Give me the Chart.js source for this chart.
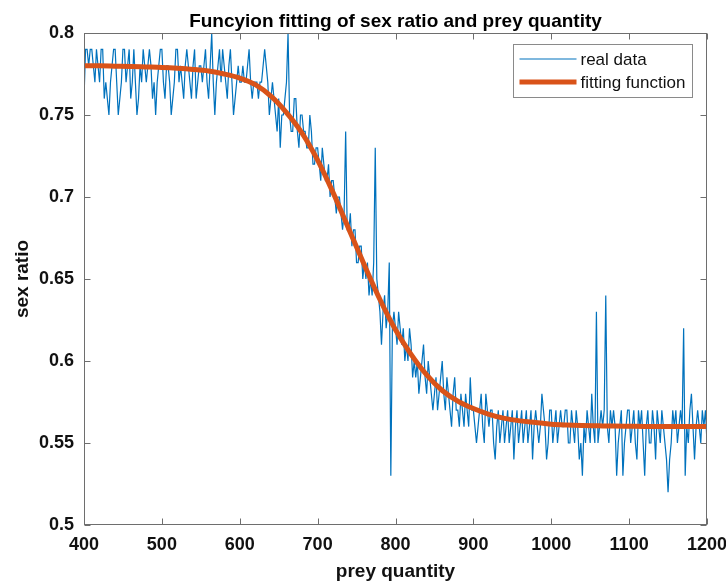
<!DOCTYPE html>
<html>
<head>
<meta charset="utf-8">
<script src="https://cdn.jsdelivr.net/npm/chart.js@4.4.1/dist/chart.umd.min.js"></script>
<style>
  html, body { margin: 0; padding: 0; background: #ffffff; }
  #wrap { width: 726px; height: 585px; }
</style>
</head>
<body>
<div id="wrap"><canvas id="c" width="726" height="585"></canvas></div>
<script>
// ---------- data ----------
const chartTitle = 'Funcyion fitting of sex ratio and prey quantity';
const xAxisTitle = 'prey quantity';
const yAxisTitle = 'sex ratio';
const seriesLabels = ['real data', 'fitting function'];

const xTicks = [400, 500, 600, 700, 800, 900, 1000, 1100, 1200];
const yTicks = [0.5, 0.55, 0.6, 0.65, 0.7, 0.75, 0.8];

// prey quantity for the measured series: 400, 402, ..., 1200
const realStart = 400, realStep = 2;
const realRatio = [
  0.76,0.79,0.79,0.78,0.79,0.79,0.78,0.77,0.79,0.78,0.77,0.79,0.79,0.76,0.77,0.76,0.75,0.77,0.78,0.79,
  0.79,0.77,0.75,0.76,0.77,0.79,0.79,0.77,0.78,0.79,0.76,0.77,0.79,0.77,0.75,0.76,0.78,0.77,0.79,0.78,
  0.77,0.78,0.79,0.78,0.76,0.77,0.75,0.77,0.78,0.79,0.79,0.77,0.76,0.78,0.78,0.77,0.75,0.76,0.77,0.79,
  0.79,0.77,0.78,0.77,0.76,0.78,0.79,0.78,0.77,0.76,0.78,0.79,0.76,0.77,0.78,0.78,0.77,0.78,0.79,0.77,
  0.76,0.78,0.80,0.77,0.75,0.77,0.78,0.79,0.77,0.79,0.78,0.77,0.76,0.78,0.79,0.77,0.75,0.76,0.77,0.78,
  0.77,0.77,0.78,0.77,0.77,0.78,0.79,0.77,0.76,0.77,0.77,0.77,0.76,0.77,0.77,0.78,0.79,0.78,0.77,0.75,
  0.76,0.77,0.76,0.75,0.74,0.76,0.73,0.75,0.75,0.76,0.77,0.80,0.75,0.74,0.74,0.76,0.76,0.74,0.73,0.75,
  0.75,0.74,0.74,0.73,0.73,0.75,0.74,0.72,0.72,0.73,0.73,0.72,0.71,0.73,0.72,0.71,0.71,0.72,0.70,0.71,
  0.71,0.70,0.69,0.70,0.70,0.69,0.68,0.69,0.74,0.68,0.68,0.69,0.67,0.68,0.68,0.66,0.66,0.67,0.67,0.65,
  0.66,0.65,0.66,0.64,0.65,0.64,0.66,0.73,0.65,0.64,0.63,0.61,0.63,0.64,0.62,0.63,0.66,0.53,0.62,0.63,
  0.62,0.61,0.63,0.62,0.61,0.62,0.60,0.61,0.60,0.62,0.61,0.59,0.60,0.59,0.60,0.58,0.59,0.60,0.61,0.59,
  0.58,0.60,0.59,0.58,0.57,0.58,0.59,0.57,0.58,0.59,0.60,0.58,0.57,0.59,0.58,0.57,0.56,0.58,0.59,0.57,
  0.57,0.56,0.58,0.57,0.56,0.58,0.57,0.56,0.59,0.57,0.57,0.56,0.55,0.56,0.57,0.58,0.56,0.55,0.58,0.57,
  0.56,0.57,0.57,0.55,0.54,0.56,0.57,0.55,0.56,0.57,0.55,0.56,0.57,0.55,0.56,0.57,0.54,0.56,0.57,0.55,
  0.56,0.57,0.55,0.56,0.57,0.55,0.56,0.57,0.54,0.56,0.57,0.56,0.55,0.56,0.58,0.57,0.56,0.54,0.55,0.57,
  0.57,0.55,0.56,0.57,0.55,0.56,0.57,0.56,0.56,0.57,0.57,0.55,0.55,0.57,0.56,0.55,0.57,0.56,0.54,0.55,
  0.53,0.56,0.55,0.57,0.56,0.55,0.58,0.56,0.55,0.63,0.55,0.56,0.57,0.56,0.57,0.64,0.56,0.55,0.57,0.56,
  0.57,0.56,0.53,0.55,0.56,0.57,0.53,0.55,0.56,0.57,0.57,0.55,0.56,0.57,0.55,0.54,0.57,0.56,0.57,0.55,
  0.53,0.56,0.57,0.55,0.55,0.57,0.56,0.54,0.57,0.56,0.55,0.57,0.56,0.55,0.54,0.52,0.54,0.55,0.57,0.56,
  0.57,0.55,0.56,0.57,0.56,0.62,0.53,0.56,0.55,0.57,0.58,0.56,0.54,0.56,0.57,0.56,0.55,0.57,0.56,0.57,
  0.55
];

// fitted curve, read every 20 units of prey quantity: 400, 420, ..., 1200
const fitStart = 400, fitStep = 20;
const fitRatio = [
  0.780,0.780,0.7798,0.7796,0.7793,0.779,0.7785,0.7778,0.7768,0.775,
  0.7725,0.7685,0.7615,0.7515,0.739,0.7225,0.7025,0.6805,0.6585,0.6375,
  0.619,0.604,0.5915,0.582,0.5755,0.571,0.5675,0.565,0.5635,0.5625,
  0.5615,0.561,0.5607,0.5605,0.5603,0.5602,0.5601,0.5601,0.560,0.560,
  0.560
];

// ---------- styling ----------
const FONT = '"Liberation Sans", Arial, Helvetica, sans-serif';
const BLUE = '#0072BD';
const ORANGE = '#D95319';
const AXIS = '#6e6e6e';
const TEXT = '#111111';

Chart.defaults.font.family = FONT;
Chart.defaults.color = TEXT;

const realPoints = realRatio.map((v, i) => ({ x: realStart + i * realStep, y: v }));
const fitPoints = fitRatio.map((v, i) => ({ x: fitStart + i * fitStep, y: v }));

const matlabFrame = {
  id: 'matlabFrame',
  afterDatasetsDraw(chart) {
    const { ctx, chartArea: a, scales } = chart;
    const L = Math.round(a.left) + 0.5, R = Math.round(a.right) - 0.5;
    const T = Math.round(a.top) + 0.5, B = Math.round(a.bottom) - 0.5;
    ctx.save();
    // box
    ctx.strokeStyle = AXIS;
    ctx.lineWidth = 1;
    ctx.strokeRect(L, T, R - L, B - T);
    // inward ticks on all four sides
    const tl = 6;
    ctx.beginPath();
    xTicks.forEach(v => {
      const px = Math.round(scales.x.getPixelForValue(v)) + 0.5;
      ctx.moveTo(px, B); ctx.lineTo(px, B - tl);
      ctx.moveTo(px, T); ctx.lineTo(px, T + tl);
    });
    yTicks.forEach(v => {
      const py = Math.round(scales.y.getPixelForValue(v)) + 0.5;
      ctx.moveTo(L, py); ctx.lineTo(L + tl, py);
      ctx.moveTo(R, py); ctx.lineTo(R - tl, py);
    });
    ctx.stroke();

    // legend (inside, top-right)
    const lw = 179, lh = 53;
    const lx = Math.round(a.right - 15 - lw) + 0.5;
    const ly = Math.round(a.top + 11) + 0.5;
    ctx.fillStyle = '#ffffff';
    ctx.fillRect(lx, ly, lw, lh);
    ctx.strokeStyle = '#8a8a8a';
    ctx.lineWidth = 1;
    ctx.strokeRect(lx, ly, lw, lh);
    ctx.font = '17px ' + FONT;
    ctx.textBaseline = 'middle';
    ctx.textAlign = 'left';
    const rows = [ly + 14.5, ly + 37.5];
    chart.data.datasets.forEach((ds, i) => {
      const yy = rows[i];
      ctx.strokeStyle = ds.borderColor;
      ctx.lineWidth = ds.borderWidth;
      ctx.beginPath();
      ctx.moveTo(lx + 6, yy); ctx.lineTo(lx + 63, yy);
      ctx.stroke();
      ctx.fillStyle = TEXT;
      ctx.fillText(ds.label, lx + 67, yy + 1);
    });

    // title
    ctx.fillStyle = '#000000';
    ctx.font = 'bold 19px ' + FONT;
    ctx.textAlign = 'center';
    ctx.textBaseline = 'alphabetic';
    ctx.fillText(chartTitle, (a.left + a.right) / 2, a.top - 6);
    ctx.restore();
  }
};

new Chart(document.getElementById('c'), {
  type: 'line',
  data: {
    datasets: [
      {
        label: seriesLabels[0],
        data: realPoints,
        borderColor: BLUE,
        backgroundColor: BLUE,
        borderWidth: 1.2,
        pointRadius: 0,
        tension: 0,
        order: 1
      },
      {
        label: seriesLabels[1],
        data: fitPoints,
        borderColor: ORANGE,
        backgroundColor: ORANGE,
        borderWidth: 5,
        pointRadius: 0,
        cubicInterpolationMode: 'monotone',
        order: 0
      }
    ]
  },
  options: {
    responsive: false,
    maintainAspectRatio: false,
    animation: false,
    devicePixelRatio: 1,
    layout: { padding: { top: 33, right: 19, bottom: 0, left: 0 } },
    plugins: {
      legend: { display: false },
      title: { display: false },
      tooltip: { enabled: false }
    },
    scales: {
      x: {
        type: 'linear',
        min: 400, max: 1200,
        afterBuildTicks: s => { s.ticks = xTicks.map(v => ({ value: v })); },
        afterFit: s => { s.height = 60; s.paddingLeft = 0; s.paddingRight = 0; },
        grid: { display: false, drawTicks: false },
        border: { display: false },
        ticks: {
          autoSkip: false, maxRotation: 0, padding: 9,
          color: TEXT,
          font: { size: 18, weight: 'bold' },
          callback: v => String(v)
        },
        title: {
          display: true, text: xAxisTitle, color: TEXT,
          font: { size: 19, weight: 'bold' },
          padding: { top: 0, bottom: 2 }
        }
      },
      y: {
        type: 'linear',
        min: 0.5, max: 0.8,
        afterBuildTicks: s => { s.ticks = yTicks.map(v => ({ value: v })); },
        afterFit: s => { s.width = 84; s.paddingTop = 0; s.paddingBottom = 0; },
        grid: { display: false, drawTicks: false },
        border: { display: false },
        ticks: {
          autoSkip: false, padding: 10,
          color: TEXT,
          font: { size: 18, weight: 'bold' },
          callback: v => String(+Number(v).toFixed(2))
        },
        title: {
          display: true, text: yAxisTitle, color: TEXT,
          font: { size: 19, weight: 'bold' },
          padding: { top: 11, bottom: 0 }
        }
      }
    }
  },
  plugins: [matlabFrame]
});
</script>
</body>
</html>
